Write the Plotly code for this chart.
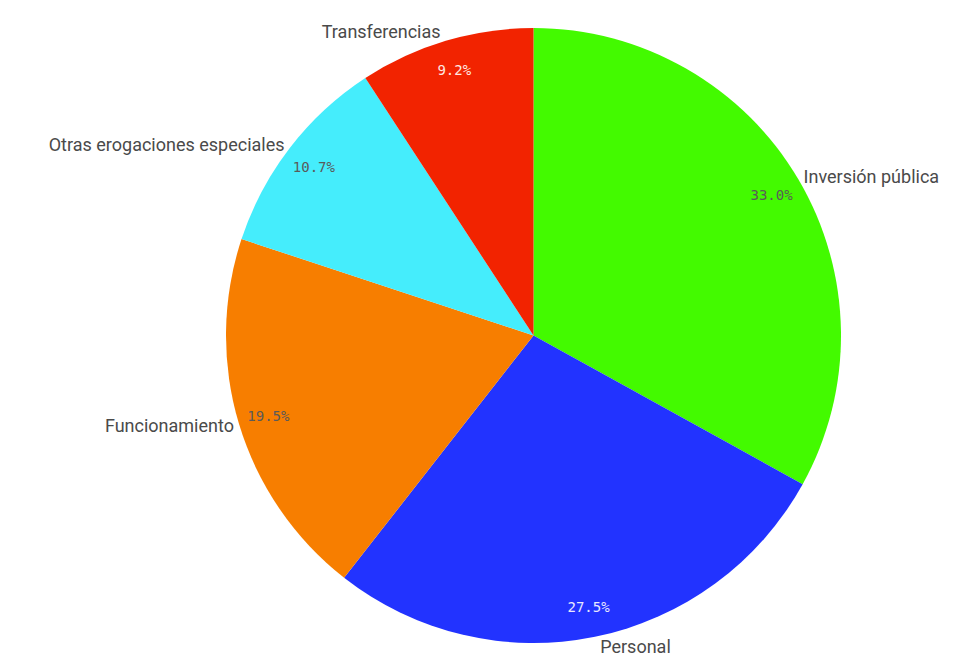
import plotly.graph_objects as go

categories = ["Inversión pública", "Personal", "Funcionamiento",
              "Otras erogaciones especiales", "Transferencias"]
values = [33.0, 27.5, 19.5, 10.7, 9.2]
colors = ["#43FA00", "#2233FF", "#F77E00", "#45EDFC", "#F22300"]
pct_colors = ["#5A5A5A", "#E8E8FF", "#5A5A5A", "#5A5A5A", "#FFE8E0"]

common = dict(labels=categories, values=values, sort=False, direction="clockwise",
              rotation=0, hoverinfo="none", showlegend=False)

fig = go.Figure()
# base pie
fig.add_trace(go.Pie(**common, marker=dict(colors=colors, line=dict(width=0)),
                     textinfo="none"))
# percentages near the rim
fig.add_trace(go.Pie(**common, hole=0.8,
                     marker=dict(colors=["rgba(0,0,0,0)"] * len(values), line=dict(width=0)),
                     texttemplate="%{value:.1f}%", textposition="inside",
                     insidetextorientation="horizontal",
                     textfont=dict(family="DejaVu Sans Mono", size=14, color=pct_colors)))
# category labels outside
fig.add_trace(go.Pie(**common,
                     marker=dict(colors=["rgba(0,0,0,0)"] * len(values), line=dict(width=0)),
                     texttemplate="%{label}", textposition="outside",
                     textfont=dict(family="Roboto", size=18, color="#4A4A4A")))

fig.update_layout(width=971, height=665, paper_bgcolor="white", plot_bgcolor="white",
                  margin=dict(l=154, r=49, t=10, b=23))
fig.write_html("out.html")
